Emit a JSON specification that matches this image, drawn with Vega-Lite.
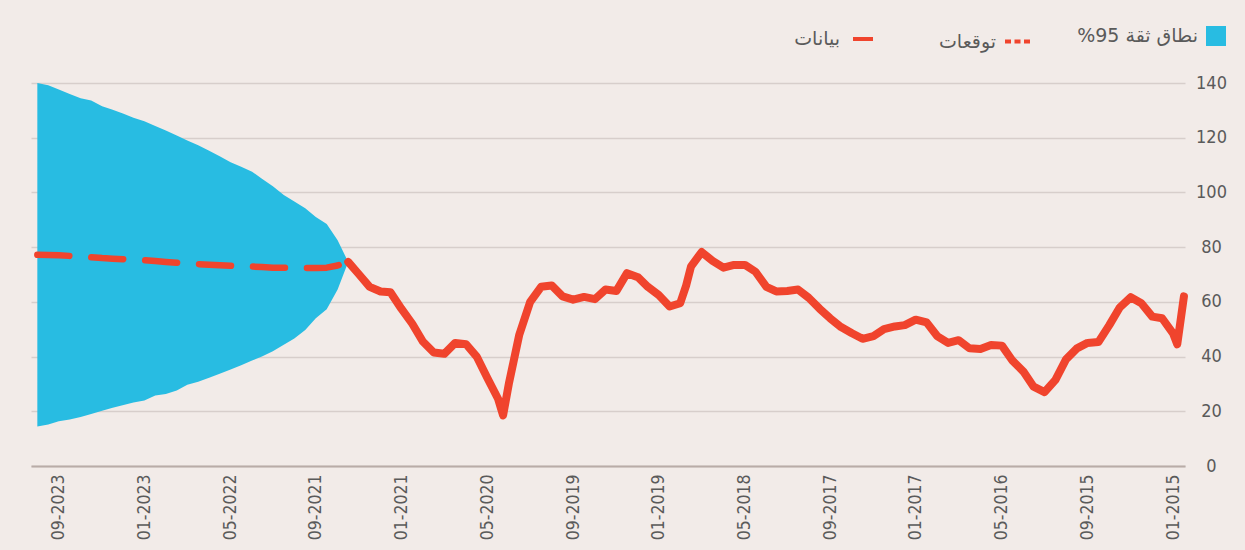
{
  "$schema": "https://vega.github.io/schema/vega-lite/v6.json",
  "width": 1154,
  "height": 383,
  "autosize": {"type": "none"},
  "padding": {"left": 31, "top": 83, "right": 60, "bottom": 84},
  "background": "#F2EBE8",
  "config": {
    "view": {"stroke": null},
    "font": "DejaVu Sans Condensed, Liberation Sans, sans-serif",
    "legend": {
      "title": null,
      "orient": "none",
      "direction": "horizontal",
      "padding": 0,
      "labelFont": "DejaVu Sans",
      "labelFontSize": 19,
      "labelColor": "#5A5A5A",
      "labelAlign": "right",
      "labelOffset": -28,
      "symbolSize": 400,
      "symbolOpacity": 1
    }
  },
  "data": {
    "values": [
      {"date": "2014-12-01", "series": "بيانات", "value": 62},
      {"date": "2014-12-20", "series": "بيانات", "value": 44.5},
      {"date": "2015-01-01", "series": "بيانات", "value": 48.5},
      {"date": "2015-02-01", "series": "بيانات", "value": 54.0},
      {"date": "2015-03-01", "series": "بيانات", "value": 54.6},
      {"date": "2015-04-01", "series": "بيانات", "value": 59.5},
      {"date": "2015-05-01", "series": "بيانات", "value": 61.7},
      {"date": "2015-06-01", "series": "بيانات", "value": 58.0},
      {"date": "2015-07-01", "series": "بيانات", "value": 51.5},
      {"date": "2015-08-01", "series": "بيانات", "value": 45.3},
      {"date": "2015-09-01", "series": "بيانات", "value": 45.0},
      {"date": "2015-10-01", "series": "بيانات", "value": 43.0},
      {"date": "2015-11-01", "series": "بيانات", "value": 39.0},
      {"date": "2015-12-01", "series": "بيانات", "value": 31.5},
      {"date": "2016-01-01", "series": "بيانات", "value": 27.0},
      {"date": "2016-02-01", "series": "بيانات", "value": 29.0},
      {"date": "2016-03-01", "series": "بيانات", "value": 34.5},
      {"date": "2016-04-01", "series": "بيانات", "value": 38.5},
      {"date": "2016-05-01", "series": "بيانات", "value": 44.0},
      {"date": "2016-06-01", "series": "بيانات", "value": 44.2},
      {"date": "2016-07-01", "series": "بيانات", "value": 42.8},
      {"date": "2016-08-01", "series": "بيانات", "value": 43.0},
      {"date": "2016-09-01", "series": "بيانات", "value": 46.0},
      {"date": "2016-10-01", "series": "بيانات", "value": 45.0},
      {"date": "2016-11-01", "series": "بيانات", "value": 47.5},
      {"date": "2016-12-01", "series": "بيانات", "value": 52.5},
      {"date": "2017-01-01", "series": "بيانات", "value": 53.5},
      {"date": "2017-02-01", "series": "بيانات", "value": 51.5},
      {"date": "2017-03-01", "series": "بيانات", "value": 51.0},
      {"date": "2017-04-01", "series": "بيانات", "value": 50.0},
      {"date": "2017-05-01", "series": "بيانات", "value": 47.5},
      {"date": "2017-06-01", "series": "بيانات", "value": 46.5},
      {"date": "2017-07-01", "series": "بيانات", "value": 48.5},
      {"date": "2017-08-01", "series": "بيانات", "value": 50.8},
      {"date": "2017-09-01", "series": "بيانات", "value": 54.0},
      {"date": "2017-10-01", "series": "بيانات", "value": 57.5},
      {"date": "2017-11-01", "series": "بيانات", "value": 61.5},
      {"date": "2017-12-01", "series": "بيانات", "value": 64.5},
      {"date": "2018-01-01", "series": "بيانات", "value": 64.0},
      {"date": "2018-02-01", "series": "بيانات", "value": 63.8},
      {"date": "2018-03-01", "series": "بيانات", "value": 65.5},
      {"date": "2018-04-01", "series": "بيانات", "value": 71.0},
      {"date": "2018-05-01", "series": "بيانات", "value": 73.5},
      {"date": "2018-06-01", "series": "بيانات", "value": 73.5},
      {"date": "2018-07-01", "series": "بيانات", "value": 72.5},
      {"date": "2018-08-01", "series": "بيانات", "value": 75.0},
      {"date": "2018-09-01", "series": "بيانات", "value": 78.2},
      {"date": "2018-10-01", "series": "بيانات", "value": 73.0},
      {"date": "2018-10-15", "series": "بيانات", "value": 66.0},
      {"date": "2018-11-01", "series": "بيانات", "value": 59.5},
      {"date": "2018-12-01", "series": "بيانات", "value": 58.3},
      {"date": "2019-01-01", "series": "بيانات", "value": 62.5},
      {"date": "2019-02-01", "series": "بيانات", "value": 65.5},
      {"date": "2019-03-01", "series": "بيانات", "value": 69.0},
      {"date": "2019-04-01", "series": "بيانات", "value": 70.5},
      {"date": "2019-05-01", "series": "بيانات", "value": 64.0},
      {"date": "2019-06-01", "series": "بيانات", "value": 64.5},
      {"date": "2019-07-01", "series": "بيانات", "value": 61.0},
      {"date": "2019-08-01", "series": "بيانات", "value": 61.8},
      {"date": "2019-09-01", "series": "بيانات", "value": 60.8},
      {"date": "2019-10-01", "series": "بيانات", "value": 62.0},
      {"date": "2019-11-01", "series": "بيانات", "value": 66.0},
      {"date": "2019-12-01", "series": "بيانات", "value": 65.5},
      {"date": "2020-01-01", "series": "بيانات", "value": 60.0},
      {"date": "2020-02-01", "series": "بيانات", "value": 48.0},
      {"date": "2020-03-01", "series": "بيانات", "value": 30.5},
      {"date": "2020-03-18", "series": "بيانات", "value": 18.5},
      {"date": "2020-04-01", "series": "بيانات", "value": 24.5},
      {"date": "2020-05-01", "series": "بيانات", "value": 32.0},
      {"date": "2020-06-01", "series": "بيانات", "value": 40.0},
      {"date": "2020-07-01", "series": "بيانات", "value": 44.5},
      {"date": "2020-08-01", "series": "بيانات", "value": 45.0},
      {"date": "2020-09-01", "series": "بيانات", "value": 41.0},
      {"date": "2020-10-01", "series": "بيانات", "value": 41.5},
      {"date": "2020-11-01", "series": "بيانات", "value": 45.5},
      {"date": "2020-12-01", "series": "بيانات", "value": 52.0},
      {"date": "2021-01-01", "series": "بيانات", "value": 57.5},
      {"date": "2021-02-01", "series": "بيانات", "value": 63.5},
      {"date": "2021-03-01", "series": "بيانات", "value": 63.8},
      {"date": "2021-04-01", "series": "بيانات", "value": 65.5},
      {"date": "2021-05-01", "series": "بيانات", "value": 70.0},
      {"date": "2021-06-01", "series": "بيانات", "value": 74.6},
      {"date": "2021-06-01", "series": "توقعات", "band": "نطاق ثقة 95%", "value": 74.6, "lo": 74.6, "hi": 74.6},
      {"date": "2021-07-01", "series": "توقعات", "band": "نطاق ثقة 95%", "value": 73.3, "lo": 64.5, "hi": 82.5},
      {"date": "2021-08-01", "series": "توقعات", "band": "نطاق ثقة 95%", "value": 72.5, "lo": 57.3, "hi": 88.5},
      {"date": "2021-09-01", "series": "توقعات", "band": "نطاق ثقة 95%", "value": 72.4, "lo": 54.0, "hi": 91.0},
      {"date": "2021-10-01", "series": "توقعات", "band": "نطاق ثقة 95%", "value": 72.4, "lo": 49.7, "hi": 94.2},
      {"date": "2021-11-01", "series": "توقعات", "band": "نطاق ثقة 95%", "value": 72.4, "lo": 46.6, "hi": 96.7},
      {"date": "2021-12-01", "series": "توقعات", "band": "نطاق ثقة 95%", "value": 72.5, "lo": 44.3, "hi": 99.1},
      {"date": "2022-01-01", "series": "توقعات", "band": "نطاق ثقة 95%", "value": 72.5, "lo": 41.9, "hi": 102.3},
      {"date": "2022-02-01", "series": "توقعات", "band": "نطاق ثقة 95%", "value": 72.7, "lo": 40.0, "hi": 105.0},
      {"date": "2022-03-01", "series": "توقعات", "band": "نطاق ثقة 95%", "value": 72.9, "lo": 38.6, "hi": 107.6},
      {"date": "2022-04-01", "series": "توقعات", "band": "نطاق ثقة 95%", "value": 73.0, "lo": 36.8, "hi": 109.4},
      {"date": "2022-05-01", "series": "توقعات", "band": "نطاق ثقة 95%", "value": 73.2, "lo": 35.3, "hi": 111.0},
      {"date": "2022-06-01", "series": "توقعات", "band": "نطاق ثقة 95%", "value": 73.4, "lo": 33.7, "hi": 113.2},
      {"date": "2022-07-01", "series": "توقعات", "band": "نطاق ثقة 95%", "value": 73.6, "lo": 32.3, "hi": 115.2},
      {"date": "2022-08-01", "series": "توقعات", "band": "نطاق ثقة 95%", "value": 73.8, "lo": 30.8, "hi": 117.2},
      {"date": "2022-09-01", "series": "توقعات", "band": "نطاق ثقة 95%", "value": 74.0, "lo": 29.7, "hi": 119.0},
      {"date": "2022-10-01", "series": "توقعات", "band": "نطاق ثقة 95%", "value": 74.3, "lo": 27.6, "hi": 120.8},
      {"date": "2022-11-01", "series": "توقعات", "band": "نطاق ثقة 95%", "value": 74.6, "lo": 26.3, "hi": 122.6},
      {"date": "2022-12-01", "series": "توقعات", "band": "نطاق ثقة 95%", "value": 74.9, "lo": 25.8, "hi": 124.3},
      {"date": "2023-01-01", "series": "توقعات", "band": "نطاق ثقة 95%", "value": 75.2, "lo": 23.9, "hi": 126.0},
      {"date": "2023-02-01", "series": "توقعات", "band": "نطاق ثقة 95%", "value": 75.4, "lo": 23.2, "hi": 127.3},
      {"date": "2023-03-01", "series": "توقعات", "band": "نطاق ثقة 95%", "value": 75.6, "lo": 22.3, "hi": 128.8},
      {"date": "2023-04-01", "series": "توقعات", "band": "نطاق ثقة 95%", "value": 75.8, "lo": 21.3, "hi": 130.2},
      {"date": "2023-05-01", "series": "توقعات", "band": "نطاق ثقة 95%", "value": 76.0, "lo": 20.2, "hi": 131.5},
      {"date": "2023-06-01", "series": "توقعات", "band": "نطاق ثقة 95%", "value": 76.3, "lo": 19.0, "hi": 133.6},
      {"date": "2023-07-01", "series": "توقعات", "band": "نطاق ثقة 95%", "value": 76.6, "lo": 17.9, "hi": 134.4},
      {"date": "2023-08-01", "series": "توقعات", "band": "نطاق ثقة 95%", "value": 76.8, "lo": 17.0, "hi": 136.0},
      {"date": "2023-09-01", "series": "توقعات", "band": "نطاق ثقة 95%", "value": 77.0, "lo": 16.4, "hi": 137.6},
      {"date": "2023-10-01", "series": "توقعات", "band": "نطاق ثقة 95%", "value": 77.1, "lo": 15.2, "hi": 139.2},
      {"date": "2023-11-01", "series": "توقعات", "band": "نطاق ثقة 95%", "value": 77.2, "lo": 14.4, "hi": 140.0}
    ]
  },
  "encoding": {
    "x": {
      "field": "date",
      "type": "temporal",
      "scale": {
        "type": "utc",
        "reverse": true,
        "domain": [
          {"year": 2014, "month": 11, "date": 28, "utc": true},
          {"year": 2023, "month": 11, "date": 19, "utc": true}
        ]
      },
      "axis": {
        "title": null,
        "labelExpr": "utcFormat(datum.value, '%m-%Y')",
        "values": [
          {"year": 2015, "month": 1, "date": 1, "utc": true},
          {"year": 2015, "month": 9, "date": 1, "utc": true},
          {"year": 2016, "month": 5, "date": 1, "utc": true},
          {"year": 2017, "month": 1, "date": 1, "utc": true},
          {"year": 2017, "month": 9, "date": 1, "utc": true},
          {"year": 2018, "month": 5, "date": 1, "utc": true},
          {"year": 2019, "month": 1, "date": 1, "utc": true},
          {"year": 2019, "month": 9, "date": 1, "utc": true},
          {"year": 2020, "month": 5, "date": 1, "utc": true},
          {"year": 2021, "month": 1, "date": 1, "utc": true},
          {"year": 2021, "month": 9, "date": 1, "utc": true},
          {"year": 2022, "month": 5, "date": 1, "utc": true},
          {"year": 2023, "month": 1, "date": 1, "utc": true},
          {"year": 2023, "month": 9, "date": 1, "utc": true}
        ],
        "labelAngle": 270,
        "labelFont": "DejaVu Sans Condensed, Liberation Sans, sans-serif",
        "labelFontSize": 17.5,
        "labelColor": "#5A5A5A",
        "labelPadding": 8,
        "labelOverlap": false,
        "labelFlush": false,
        "ticks": false,
        "grid": false,
        "domainColor": "#B9ACA7",
        "domainWidth": 2
      }
    }
  },
  "layer": [
    {
      "transform": [{"filter": "datum.series === 'توقعات'"}],
      "mark": {"type": "area", "opacity": 1},
      "encoding": {
        "y": {
          "field": "lo",
          "type": "quantitative",
          "scale": {"domain": [0, 140], "nice": false},
          "axis": {
            "orient": "right",
            "title": null,
            "values": [0, 20, 40, 60, 80, 100, 120, 140],
            "domain": false,
            "ticks": false,
            "grid": true,
            "gridColor": "#D7CECB",
            "gridWidth": 1.5,
            "labelAlign": "center",
            "labelPadding": 26,
            "labelFont": "DejaVu Sans Condensed, Liberation Sans, sans-serif",
            "labelFontSize": 18,
            "labelColor": "#5A5A5A"
          }
        },
        "y2": {"field": "hi"},
        "fill": {
          "field": "band",
          "type": "nominal",
          "scale": {"domain": ["نطاق ثقة 95%"], "range": ["#28BCE2"]},
          "legend": {
            "labelExpr": "'\u202B' + datum.label + '\u202C'",
            "legendX": 1175,
            "legendY": -57,
            "symbolType": "square",
            "symbolSize": 400,
            "symbolStrokeWidth": 0
          }
        }
      }
    },
    {
      "transform": [{"filter": "datum.series === 'توقعات'"}],
      "mark": {"type": "line", "color": "#F0442D", "strokeWidth": 6.5, "strokeDash": [32, 22], "strokeCap": "round", "strokeJoin": "round"},
      "encoding": {
        "y": {"field": "value", "type": "quantitative"}
      }
    },
    {
      "transform": [{"filter": "false"}],
      "mark": {"type": "line", "color": "#F0442D", "strokeWidth": 4},
      "encoding": {
        "y": {"field": "value", "type": "quantitative"},
        "strokeDash": {
          "field": "series",
          "type": "nominal",
          "scale": {"domain": ["توقعات"], "range": [[6, 3.5]]},
          "legend": {
            "labelExpr": "'\u202B' + datum.label + '\u202C'",
            "legendX": 972,
            "legendY": -56,
            "symbolType": "stroke",
            "symbolSize": 625,
            "symbolStrokeWidth": 4,
            "symbolStrokeColor": "#F0442D",
            "labelOffset": -36
          }
        }
      }
    },
    {
      "transform": [{"filter": "datum.series === 'بيانات'"}],
      "mark": {"type": "line", "strokeWidth": 8, "strokeCap": "round", "strokeJoin": "round"},
      "encoding": {
        "y": {"field": "value", "type": "quantitative"},
        "stroke": {
          "field": "series",
          "type": "nominal",
          "scale": {"domain": ["بيانات"], "range": ["#F0442D"]},
          "legend": {
            "labelExpr": "'\u202B' + datum.label + '\u202C'",
            "legendX": 820,
            "legendY": -56,
            "symbolType": "stroke",
            "symbolSize": 400,
            "symbolStrokeWidth": 4,
            "labelOffset": -35
          }
        }
      }
    }
  ]
}
